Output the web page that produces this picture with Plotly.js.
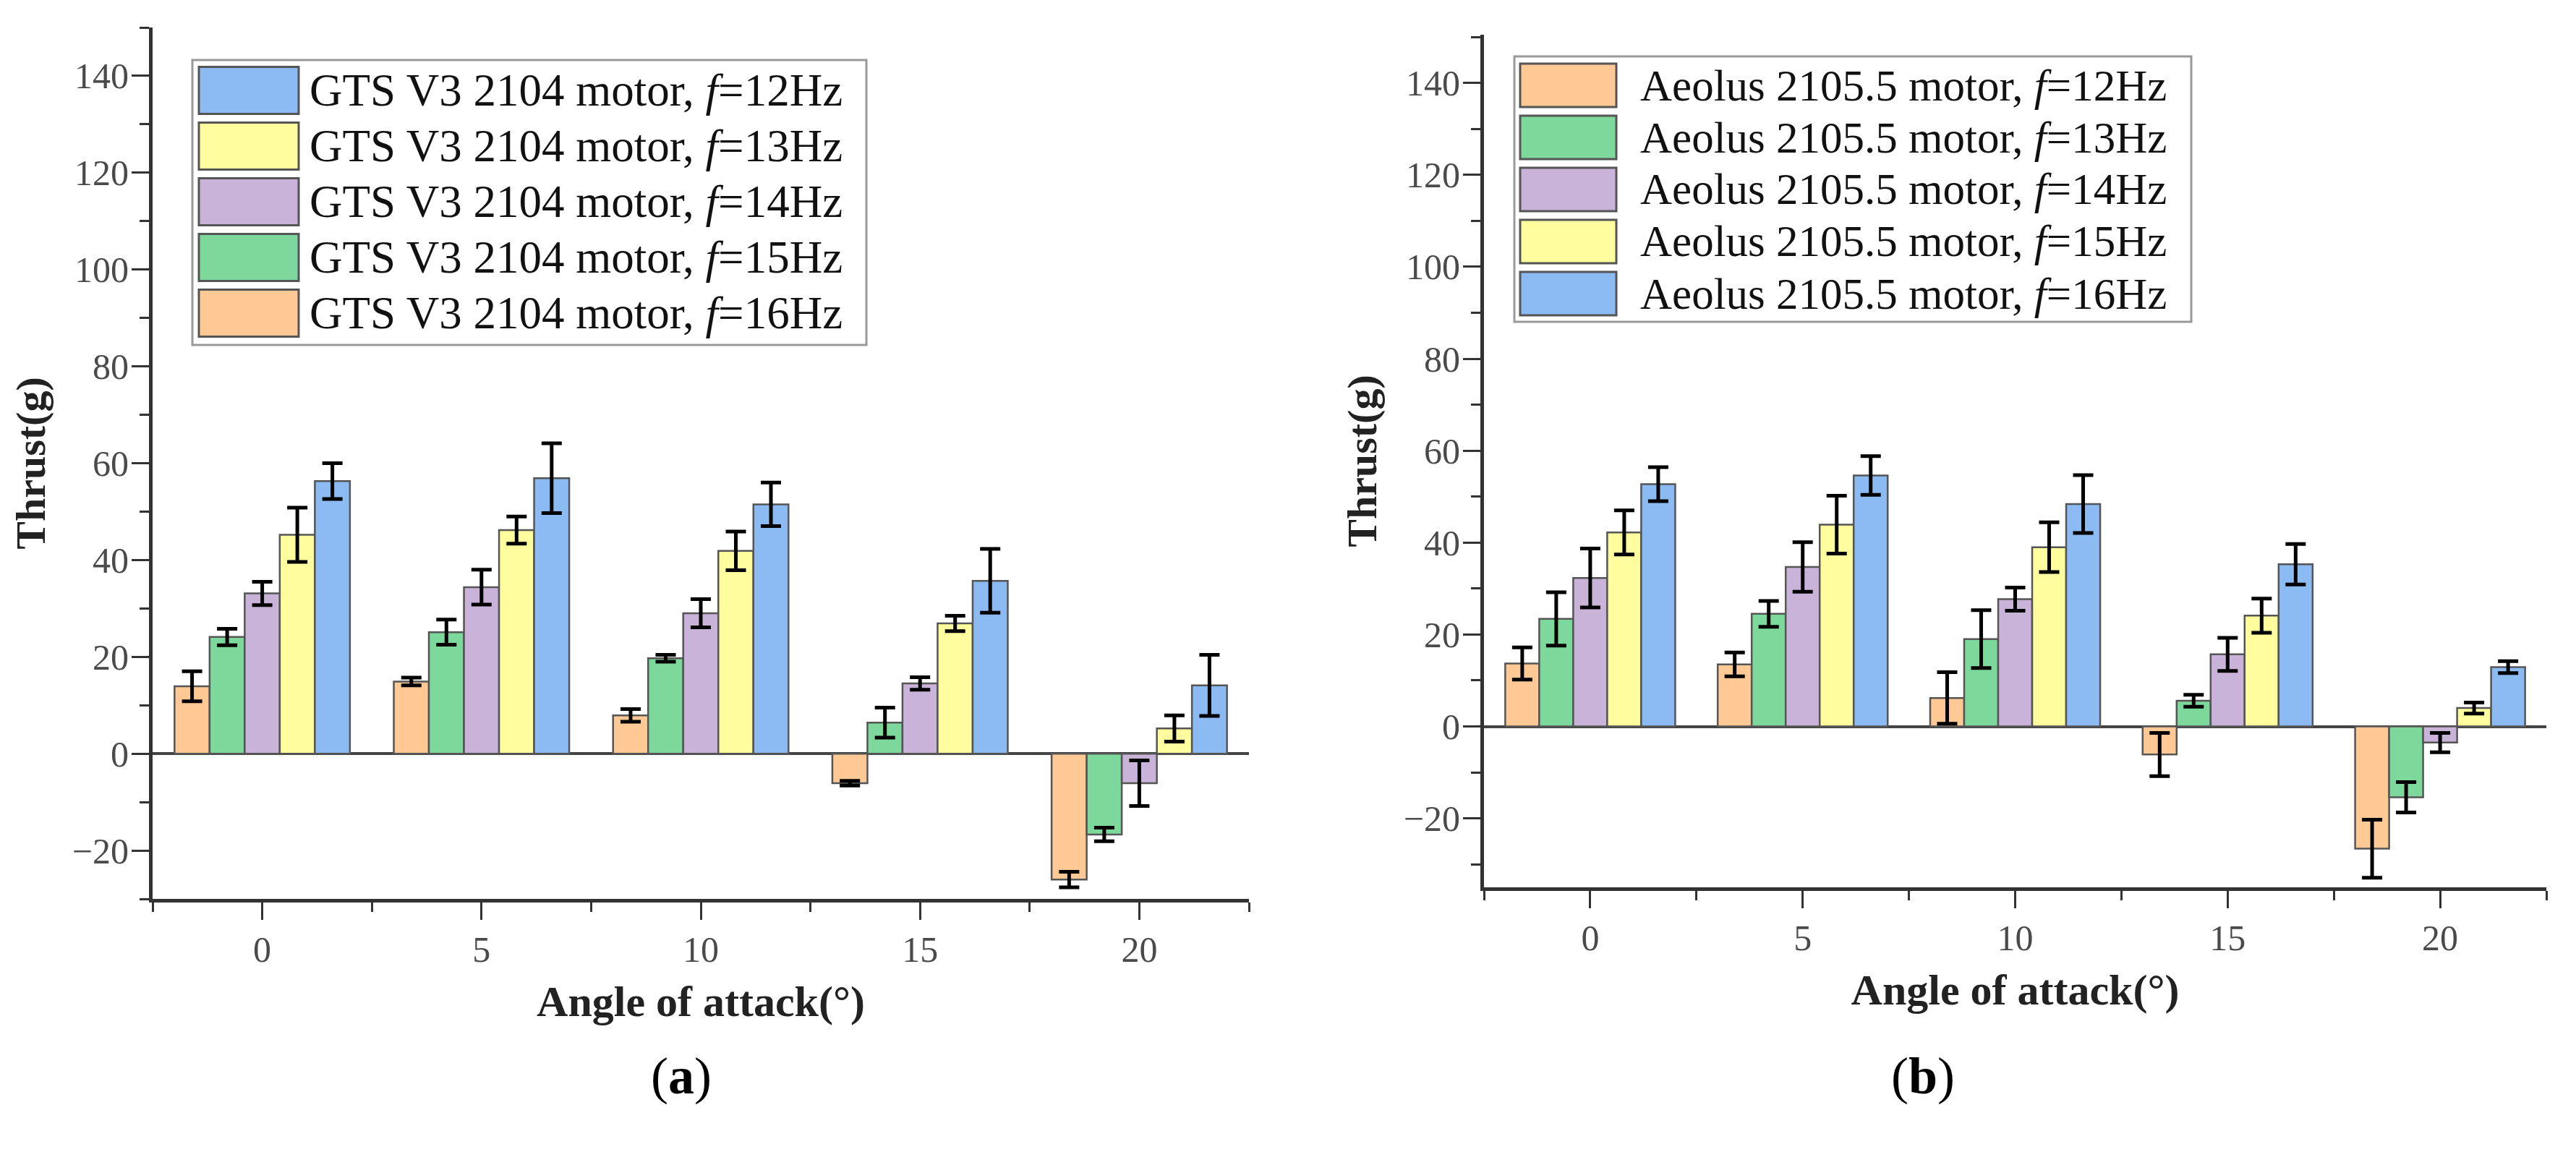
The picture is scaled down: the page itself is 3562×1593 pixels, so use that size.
<!DOCTYPE html>
<html><head><meta charset="utf-8">
<script src="https://cdn.plot.ly/plotly-3.0.1.min.js"></script>
<style>html,body{margin:0;padding:0;background:#fff}#chart{width:3562px;height:1593px}</style>
</head><body><div id="chart"></div>
<script>
// ---------- DATA ----------
const angles = [0, 5, 10, 15, 20];

// Panel (a): GTS V3 2104 motor (bar order left -> right within each group)
const aMotor = 'GTS V3 2104 motor';
const aFreqs = ['16Hz', '15Hz', '14Hz', '13Hz', '12Hz'];
const a16 = [13.9, 14.9, 7.9, -6.1, -26.0];
const a16Err = [3.1, 0.8, 1.3, 0.5, 1.6];
const a15 = [24.1, 25.1, 19.7, 6.4, -16.7];
const a15Err = [1.7, 2.6, 0.7, 3.1, 1.4];
const a14 = [33.1, 34.4, 29.0, 14.5, -6.1];
const a14Err = [2.4, 3.6, 2.9, 1.3, 4.7];
const a13 = [45.2, 46.2, 41.9, 26.9, 5.2];
const a13Err = [5.6, 2.8, 4.0, 1.6, 2.7];
const a12 = [56.3, 56.9, 51.5, 35.7, 14.1];
const a12Err = [3.7, 7.2, 4.5, 6.6, 6.3];

// Panel (b): Aeolus 2105.5 motor
const bMotor = 'Aeolus 2105.5 motor';
const bFreqs = ['12Hz', '13Hz', '14Hz', '15Hz', '16Hz'];
const b12 = [13.7, 13.5, 6.2, -6.1, -26.6];
const b12Err = [3.5, 2.6, 5.6, 4.7, 6.3];
const b13 = [23.4, 24.5, 19.0, 5.6, -15.4];
const b13Err = [5.8, 2.8, 6.3, 1.3, 3.3];
const b14 = [32.3, 34.7, 27.7, 15.7, -3.5];
const b14Err = [6.4, 5.4, 2.5, 3.6, 2.1];
const b15 = [42.2, 43.9, 39.0, 24.1, 4.0];
const b15Err = [4.8, 6.3, 5.4, 3.7, 1.2];
const b16 = [52.7, 54.6, 48.4, 35.3, 12.9];
const b16Err = [3.7, 4.2, 6.3, 4.4, 1.3];

const xTitle = 'Angle of attack(°)';
const yTitle = 'Thrust(g)';

// ---------- STYLE ----------
const ORANGE = '#FFC996', GREEN = '#7DD89B', PURPLE = '#C9B3D9', YELLOW = '#FFFD9D', BLUE = '#8CBBF3';
const aColors = [ORANGE, GREEN, PURPLE, YELLOW, BLUE];
const bColors = [ORANGE, GREEN, PURPLE, YELLOW, BLUE];
const FONT = 'Liberation Serif, Times New Roman, serif';
const W = 3562, H = 1593;
const px = v => v / W, py = v => 1 - v / H;

function mkName(motor, f) { return motor + ', <i>f</i>=' + f; }

function bar(xa, ya, y, err, color, name) {
  return {
    type: 'bar', x: angles, y: y, name: name, xaxis: xa, yaxis: ya, showlegend: false,
    marker: { color: color, line: { color: '#555', width: 2.5 } },
    error_y: { type: 'data', array: err, visible: true, color: '#000', thickness: 5, width: 14 }
  };
}

const aVals = [a16, a15, a14, a13, a12], aErrs = [a16Err, a15Err, a14Err, a13Err, a12Err];
const bVals = [b12, b13, b14, b15, b16], bErrs = [b12Err, b13Err, b14Err, b15Err, b16Err];

const traces = [];
aVals.forEach((v, i) => traces.push(bar('x', 'y', v, aErrs[i], aColors[i], mkName(aMotor, aFreqs[i]))));
bVals.forEach((v, i) => traces.push(bar('x2', 'y2', v, bErrs[i], bColors[i], mkName(bMotor, bFreqs[i]))));

const AX = '#333';
const TICKFONT = { family: FONT, size: 50, color: '#4a4a4a' };
function xAxis(domain, anchor, extra) {
  return Object.assign({
    domain: domain, anchor: anchor, range: [-2.5, 22.5], tickvals: angles,
    ticks: 'outside', ticklen: 24, tickwidth: 3, tickcolor: AX,
    minor: { dtick: 2.5, tick0: 0, ticks: 'outside', ticklen: 13, tickwidth: 3, tickcolor: AX },
    showline: true, linewidth: 5, linecolor: AX, showgrid: false, zeroline: false,
    tickfont: TICKFONT, ticklabelstandoff: -2
  }, extra);
}
function yAxis(domain, anchor, range, extra) {
  return Object.assign({
    domain: domain, anchor: anchor, range: range, dtick: 20, tick0: 0,
    ticks: 'outside', ticklen: 24, tickwidth: 3, tickcolor: AX,
    minor: { dtick: 10, tick0: 0, ticks: 'outside', ticklen: 13, tickwidth: 3, tickcolor: AX },
    showline: true, linewidth: 5, linecolor: AX, showgrid: false,
    zeroline: true, zerolinewidth: 4, zerolinecolor: '#444',
    tickfont: TICKFONT, ticklabelstandoff: -6
  }, extra);
}
function mirrorX(over, anchor, domain) {
  return { overlaying: over, anchor: anchor, side: 'top', domain: domain, range: [-2.5, 22.5], tickvals: angles,
    ticks: 'inside', ticklen: 24, tickwidth: 3, tickcolor: AX, showticklabels: false,
    minor: { dtick: 2.5, tick0: 0, ticks: 'inside', ticklen: 13, tickwidth: 3, tickcolor: AX },
    showline: true, linewidth: 5, linecolor: AX, showgrid: false, zeroline: false };
}
function mirrorY(over, anchor, range) {
  return { overlaying: over, anchor: anchor, side: 'right', range: range, dtick: 20, tick0: 0,
    ticks: 'inside', ticklen: 24, tickwidth: 3, tickcolor: AX, showticklabels: false,
    minor: { dtick: 10, tick0: 0, ticks: 'inside', ticklen: 13, tickwidth: 3, tickcolor: AX },
    showline: true, linewidth: 5, linecolor: AX, showgrid: false, zeroline: false };
}

const aDomX = [px(211), px(1727)], aDomY = [py(1243), py(38)];
const bDomX = [px(2052), px(3521)], bDomY = [py(1227), py(48)];
const aRange = [-30, 150], bRange = [-35, 150.5];

const xt = { text: '<b>' + xTitle + '</b>', font: { family: FONT, size: 60, color: '#222' }, standoff: 24 };
const yt = { text: '<b>' + yTitle + '</b>', font: { family: FONT, size: 58, color: '#222' }, standoff: 20 };

// ---------- Legends (large swatches drawn as shapes) ----------
const shapes = [], annotations = [];
function legend(box, swX, rows, swH, textX, names, colors, fsize) {
  shapes.push({ type: 'rect', xref: 'paper', yref: 'paper', x0: px(box[0]), x1: px(box[1]), y0: py(box[3]), y1: py(box[2]),
    line: { color: '#999', width: 3 }, fillcolor: '#fff', layer: 'above' });
  rows.forEach((c, i) => {
    shapes.push({ type: 'rect', xref: 'paper', yref: 'paper', x0: px(swX[0]), x1: px(swX[1]),
      y0: py(c + swH / 2), y1: py(c - swH / 2), fillcolor: colors[i], line: { color: '#555', width: 3 }, layer: 'above' });
    annotations.push({ xref: 'paper', yref: 'paper', x: px(textX), y: py(c), xanchor: 'left', yanchor: 'middle',
      text: names[i], showarrow: false, font: { family: FONT, size: fsize, color: '#111' } });
  });
}
// panel (a) legend lists traces in reverse bar order
const aLegNames = aFreqs.map(f => mkName(aMotor, f)).reverse();
const aLegColors = aColors.slice().reverse();
legend([266, 1198, 83, 477], [275, 413], [125, 202, 279, 356, 433], 65, 426, aLegNames, aLegColors, 63);
const bLegNames = bFreqs.map(f => mkName(bMotor, f));
legend([2094, 3030, 78, 445], [2102, 2235], [118, 190, 262, 334, 406], 60, 2266, bLegNames, bColors, 61);

annotations.push({ xref: 'paper', yref: 'paper', x: px(898), y: py(1530), text: '(<b>a</b>)', showarrow: false,
  font: { family: FONT, size: 72, color: '#000' } });
annotations.push({ xref: 'paper', yref: 'paper', x: px(2705), y: py(1530), text: '(<b>b</b>)', showarrow: false,
  font: { family: FONT, size: 72, color: '#000' } });

const layout = {
  width: W, height: H, margin: { l: 0, r: 0, t: 0, b: 0 }, paper_bgcolor: '#fff', plot_bgcolor: '#fff',
  barmode: 'group', bargap: 0.2, bargroupgap: 0, showlegend: false,
  font: { family: FONT },
  xaxis: xAxis(aDomX, 'y', { title: xt }),
  yaxis: yAxis(aDomY, 'x', aRange, { title: yt }),
  xaxis2: xAxis(bDomX, 'y2', { title: xt }),
  yaxis2: yAxis(bDomY, 'x2', bRange, { title: yt }),
  xaxis3: mirrorX('x', 'y', aDomX),
  yaxis3: mirrorY('y', 'x', aRange),
  xaxis4: mirrorX('x2', 'y2', bDomX),
  yaxis4: mirrorY('y2', 'x2', bRange),
  shapes: shapes, annotations: annotations
};

Plotly.newPlot('chart', traces, layout, { displayModeBar: false, staticPlot: true });
</script></body></html>
